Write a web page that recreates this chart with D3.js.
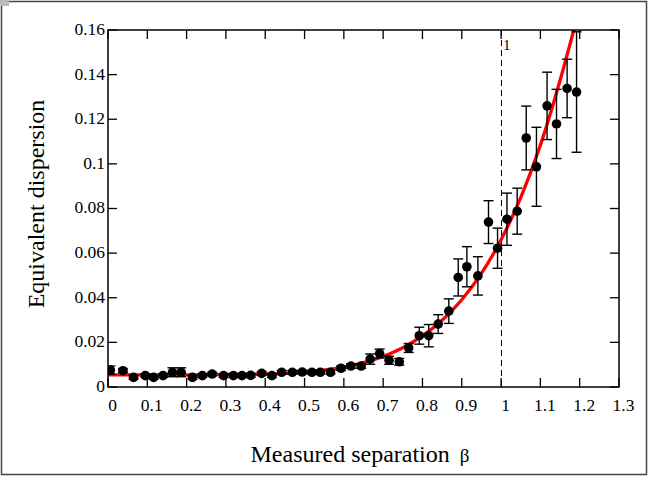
<!DOCTYPE html>
<html><head><meta charset="utf-8">
<script src="https://cdn.jsdelivr.net/npm/d3@7"></script>
<style>body{margin:0;background:#fff}svg{display:block}</style>
</head><body>
<svg id="c" width="649" height="483"></svg>
<script>
// Measured points
const beta = [0.006,0.038,0.065,0.095,0.116,0.140,0.164,0.186,0.215,0.240,0.265,0.294,0.319,0.341,0.363,0.391,0.417,0.442,0.469,0.494,0.519,0.540,0.566,0.593,0.618,0.644,0.667,0.691,0.715,0.741,0.765,0.792,0.816,0.840,0.867,0.891,0.913,0.941,0.968,0.991,1.015,1.041,1.064,1.090,1.117,1.141,1.168,1.192];
const dispersion = [0.0076,0.0073,0.0043,0.0051,0.0043,0.0051,0.0066,0.0066,0.0043,0.0051,0.0058,0.0051,0.0051,0.0051,0.0052,0.0061,0.0051,0.0066,0.0066,0.0067,0.0066,0.0066,0.0066,0.0084,0.0094,0.0094,0.0125,0.0150,0.0120,0.0113,0.0175,0.0230,0.0230,0.0282,0.0340,0.0491,0.0539,0.0498,0.0739,0.0622,0.0752,0.0788,0.1116,0.0987,0.1260,0.1179,0.1338,0.1322];
const errors = [0.0018,0.0008,0.0008,0.0008,0.0008,0.0008,0.0020,0.0020,0.0008,0.0008,0.0008,0.0008,0.0008,0.0008,0.0008,0.0008,0.0008,0.0008,0.0008,0.0008,0.0008,0.0008,0.0008,0.0010,0.0010,0.0010,0.0023,0.0020,0.0018,0.0015,0.0020,0.0038,0.0050,0.0042,0.0055,0.0083,0.0090,0.0086,0.0096,0.0090,0.0117,0.0103,0.0143,0.0177,0.0151,0.0155,0.0131,0.0270];
// Fitted curve
const fitBeta = [0,0.1,0.2,0.3,0.4,0.5,0.6,0.65,0.7,0.75,0.8,0.85,0.9,0.95,1.0,1.05,1.1,1.15,1.185,1.2];
const fitValue = [0.0054,0.0054,0.0054,0.0056,0.0058,0.0067,0.0089,0.0109,0.0137,0.0176,0.0229,0.0299,0.0391,0.0509,0.0660,0.0849,0.1084,0.1374,0.1600,0.1700];
const xTicks = [0,0.1,0.2,0.3,0.4,0.5,0.6,0.7,0.8,0.9,1,1.1,1.2,1.3];
const yTicks = [0,0.02,0.04,0.06,0.08,0.1,0.12,0.14,0.16];
const markerBeta = 1;

const svg = d3.select('#c');
const L=108, R=619, T=30, B=387;
const x = d3.scaleLinear().domain([0,1.3]).range([L,R]);
const y = d3.scaleLinear().domain([0,0.16]).range([B,T]);
const font = "'Liberation Serif','Times New Roman',serif";

// outer frame
svg.append('rect').attr('x',1.5).attr('y',1.5).attr('width',645).attr('height',473)
  .attr('fill','none').attr('stroke','#444').attr('stroke-width',1.5);
svg.append('rect').attr('x',0).attr('y',0).attr('width',9).attr('height',6).attr('fill','#bbb');

svg.append('defs').append('clipPath').attr('id','clip')
  .append('rect').attr('x',L).attr('y',T).attr('width',R-L).attr('height',B-T);

// axes (ticks inside)
const tl = 9;
const axB = d3.axisBottom(x).tickValues(xTicks).tickSize(0).tickFormat(d3.format('~g'));
const gB = svg.append('g').attr('transform',`translate(0,${B})`).call(axB);
gB.select('.domain').remove();
gB.selectAll('text').attr('dy',null).attr('y',24).attr('dx',4)
  .style('font-family',font).style('font-size','17.5px').attr('fill','#000');
const axL = d3.axisLeft(y).tickValues(yTicks).tickSize(0).tickFormat(d3.format('~g'));
const gL = svg.append('g').attr('transform',`translate(${L},0)`).call(axL);
gL.select('.domain').remove();
gL.selectAll('text').attr('x',-3).attr('dy','0.25em')
  .style('font-family',font).style('font-size','17.5px').attr('fill','#000');

const ticks = svg.append('g').attr('stroke','#000').attr('stroke-width',1.3);
xTicks.forEach(t=>{
  ticks.append('line').attr('x1',x(t)).attr('x2',x(t)).attr('y1',B).attr('y2',B-tl);
  ticks.append('line').attr('x1',x(t)).attr('x2',x(t)).attr('y1',T).attr('y2',T+tl);
});
yTicks.forEach(t=>{
  ticks.append('line').attr('x1',L).attr('x2',L+tl).attr('y1',y(t)).attr('y2',y(t));
  ticks.append('line').attr('x1',R).attr('x2',R-tl).attr('y1',y(t)).attr('y2',y(t));
});

// dashed marker (pixel-snapped)
const mx = Math.round(x(markerBeta)) + 0.5;
svg.append('line').attr('x1',mx).attr('x2',mx).attr('y1',T).attr('y2',B)
  .attr('stroke','#000').attr('stroke-width',1).attr('stroke-dasharray','6,4');
svg.append('text').attr('x',x(markerBeta)+2).attr('y',50).text('1')
  .style('font-family',font).style('font-size','15px').attr('fill','#000');

const plot = svg.append('g').attr('clip-path','url(#clip)');
// fit curve
const fit = fitBeta.map((b,i)=>[b,fitValue[i]]);
plot.append('path').datum(fit)
  .attr('d',d3.line().x(d=>x(d[0])).y(d=>y(d[1])).curve(d3.curveMonotoneX))
  .attr('fill','none').attr('stroke','#f00').attr('stroke-width',3.3);

// error bars
const pts = beta.map((b,i)=>({b, v:dispersion[i], e:errors[i]}));
const eb = plot.append('g').attr('stroke','#000').attr('stroke-width',1.4);
pts.forEach(p=>{
  const cx=x(p.b), y1=y(p.v-p.e), y2=y(p.v+p.e);
  eb.append('line').attr('x1',cx).attr('x2',cx).attr('y1',y1).attr('y2',y2);
  eb.append('line').attr('x1',cx-5).attr('x2',cx+5).attr('y1',y1).attr('y2',y1);
  eb.append('line').attr('x1',cx-5).attr('x2',cx+5).attr('y1',y2).attr('y2',y2);
});
plot.append('g').selectAll('circle').data(pts).join('circle')
  .attr('cx',d=>x(d.b)).attr('cy',d=>y(d.v)).attr('r',4.8).attr('fill','#000');

// box
svg.append('rect').attr('x',L).attr('y',T).attr('width',R-L).attr('height',B-T)
  .attr('fill','none').attr('stroke','#000').attr('stroke-width',1.5);

// titles
svg.append('text').attr('transform',`translate(44,204) rotate(-90)`)
  .attr('text-anchor','middle').text('Equivalent dispersion')
  .style('font-family',font).style('font-size','24px');
const xt = svg.append('text').attr('x',360).attr('y',462).attr('text-anchor','middle')
  .style('font-family',font).style('font-size','24px');
xt.append('tspan').text('Measured separation ');
xt.append('tspan').attr('dx',4).style('font-size','19px').text('β');
</script>
</body></html>
